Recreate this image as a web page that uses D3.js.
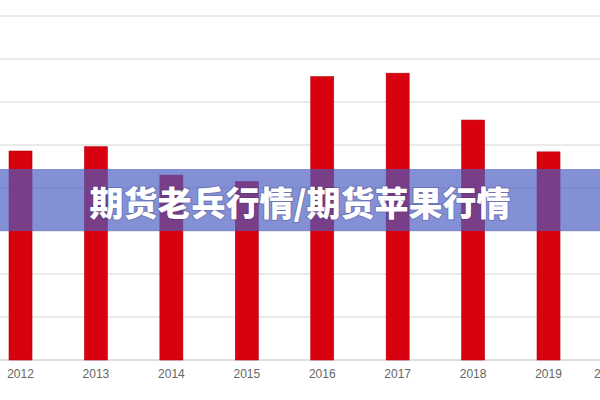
<!DOCTYPE html>
<html>
<head>
<meta charset="utf-8">
<script src="https://cdn.jsdelivr.net/npm/d3@7"></script>
<style>
  html, body { margin: 0; padding: 0; background: #fff; overflow: hidden; }
  svg { display: block; }
</style>
</head>
<body>
<svg id="chart" width="600" height="400"></svg>
<script>
// data (arbitrary units, grid step = 1)
const years = ["2012", "2013", "2014", "2015", "2016", "2017", "2018", "2019", "2020"];
const values = [4.86, 4.96, 4.30, 4.15, 6.59, 6.67, 5.58, 4.84, null];
const yTicks = [0, 1, 2, 3, 4, 5, 6, 7, 8];
const title = "期货老兵行情/期货苹果行情";

const svg = d3.select("#chart");
const width = +svg.attr("width");
const height = +svg.attr("height");

const baseY = 360;
const topY = 16;

// band scale so the chart continues past the right edge (2020 is cut off)
const step = 75.43;
const x = d3.scaleBand()
  .domain(years)
  .range([-17.2, -17.2 + years.length * step])
  .paddingInner(0.695)
  .paddingOuter(0.3475);

const y = d3.scaleLinear()
  .domain([0, 8])
  .range([baseY, topY]);

// gridlines
svg.append("g")
  .selectAll("line")
  .data(yTicks)
  .enter().append("line")
    .attr("x1", 0)
    .attr("x2", width)
    .attr("y1", d => y(d))
    .attr("y2", d => y(d))
    .attr("stroke", d => d === 0 ? "#d6d6d6" : "#e3e3e3")
    .attr("stroke-width", 1.5);

// bars
const data = years.map((year, i) => ({ year, value: values[i] }))
  .filter(d => d.value != null);

svg.append("g")
  .selectAll("rect")
  .data(data)
  .enter().append("rect")
    .attr("x", d => x(d.year))
    .attr("y", d => y(d.value))
    .attr("width", x.bandwidth())
    .attr("height", d => baseY - y(d.value))
    .attr("fill", "#d9000f")
    .attr("stroke", "#b8000c")
    .attr("stroke-width", 0.6);

// x axis labels
const xAxis = svg.append("g")
  .attr("transform", `translate(0,${baseY})`)
  .call(d3.axisBottom(x).tickSize(0).tickPadding(9));

xAxis.select(".domain").remove();
xAxis.selectAll("text")
  .attr("font-family", "Liberation Sans, Arial, sans-serif")
  .attr("font-size", "12px")
  .attr("fill", "#666");

// last label sits against the right edge in the picture
xAxis.selectAll(".tick").filter(d => d === "2020").select("text")
  .attr("text-anchor", "start")
  .attr("dx", "-30");

// title banner
svg.append("rect")
  .attr("x", 0)
  .attr("y", 169)
  .attr("width", width)
  .attr("height", 62)
  .attr("fill", "rgb(74,92,195)")
  .attr("fill-opacity", 0.68);

svg.append("text")
  .attr("x", width / 2)
  .attr("y", 201)
  .attr("text-anchor", "middle")
  .attr("dominant-baseline", "central")
  .attr("font-family", "Noto Sans CJK SC, sans-serif")
  .attr("font-weight", 900)
  .attr("font-size", "34px")
  .attr("fill", "#fff")
  .style("paint-order", "stroke")
  .attr("stroke", "rgba(40,40,90,0.25)")
  .attr("stroke-width", 2)
  .text(title);
</script>
</body>
</html>
